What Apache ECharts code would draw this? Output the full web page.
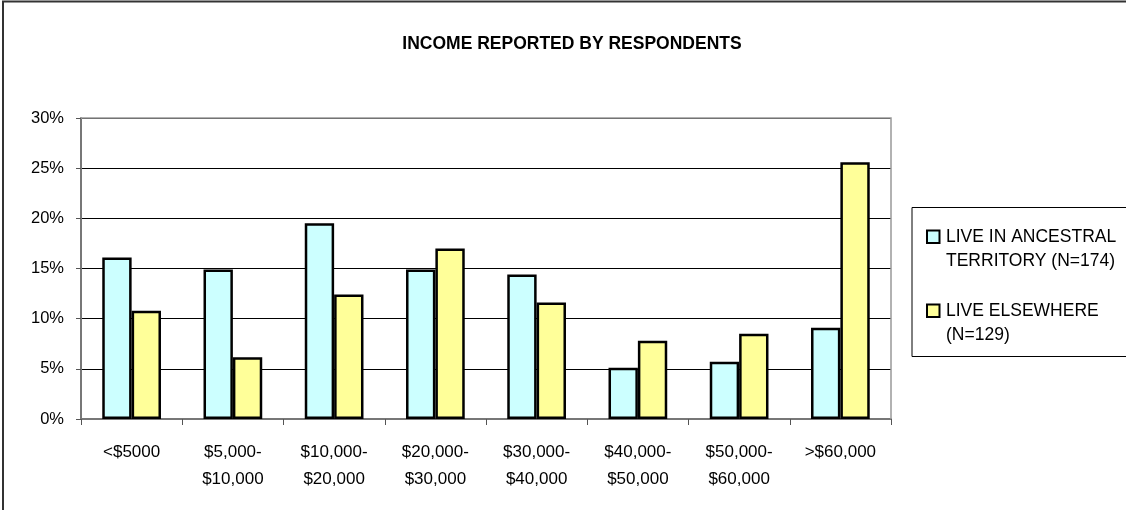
<!DOCTYPE html>
<html>
<head>
<meta charset="utf-8">
<script src="https://cdn.jsdelivr.net/npm/echarts@6/dist/echarts.min.js"></script>
<style>
  html, body { margin: 0; padding: 0; background: #fff; }
  #chart { width: 1126px; height: 510px; }
</style>
</head>
<body>
<div id="chart"></div>
<script>
// Income brackets on the category axis
const categories = ['<$5000', '$5,000-\n$10,000', '$10,000-\n$20,000', '$20,000-\n$30,000',
  '$30,000-\n$40,000', '$40,000-\n$50,000', '$50,000-\n$60,000', '>$60,000'];

// Share of respondents (%) in each bracket
const ancestral = [16.1, 14.9, 19.5, 14.9, 14.4, 5.1, 5.7, 9.1];
const elsewhere = [10.8, 6.15, 12.4, 17.0, 11.6, 7.8, 8.5, 25.6];

const seriesNames = ['LIVE IN ANCESTRAL\nTERRITORY (N=174)', 'LIVE ELSEWHERE\n(N=129)'];
const seriesColors = ['#ccffff', '#ffff99'];
const yTicks = [0, 5, 10, 15, 20, 25, 30];

const FONT = '"Liberation Sans", Arial, sans-serif';

const chart = echarts.init(document.getElementById('chart'), null, { renderer: 'canvas' });

// Legend box: a square swatch beside the first line of each two-line name
function legendGraphic() {
  const items = [];
  const x0 = 926, y0 = 229.5, step = 74;
  seriesNames.forEach((name, i) => {
    const y = y0 + i * step;
    items.push({
      type: 'rect', shape: { x: x0 + 1, y: y + 1, width: 12.5, height: 12.5 },
      style: { fill: seriesColors[i], stroke: '#000', lineWidth: 2 }, silent: true, z: 10
    });
    items.push({
      type: 'text', x: x0 + 20, y: y - 4.5,
      style: { text: name, fontFamily: FONT, fontSize: 17.5, lineHeight: 24, fill: '#000',
               textVerticalAlign: 'top' },
      silent: true, z: 10
    });
  });
  return items;
}

chart.setOption({
  animation: false,
  backgroundColor: '#fff',
  textStyle: { fontFamily: FONT, color: '#000' },
  title: {
    text: 'INCOME REPORTED BY RESPONDENTS',
    left: 567, top: 30, textAlign: 'center',
    textStyle: { fontFamily: FONT, fontSize: 17.5, fontWeight: 'bold', color: '#000' }
  },
  graphic: [
    // outer chart frame
    { type: 'rect', shape: { x: 3, y: 1.5, width: 1140, height: 520 },
      style: { fill: null, stroke: '#333', lineWidth: 2 }, silent: true },
    // plot area frame (top and right edges)
    { type: 'polyline', shape: { points: [[81, 118], [891, 118], [891, 419]] },
      style: { fill: null, stroke: '#999', lineWidth: 1.5 }, silent: true, z: 1 },
    // legend box
    { type: 'rect', shape: { x: 912, y: 207.5, width: 230, height: 149 },
      style: { fill: '#fff', stroke: '#000', lineWidth: 1 }, silent: true, z: 0 },
    ...legendGraphic()
  ],
  grid: { left: 81, right: 235, top: 118, bottom: 91, containLabel: false },
  xAxis: {
    type: 'category',
    data: categories,
    axisLine: { lineStyle: { color: '#777', width: 2 } },
    axisTick: { show: true, length: 6, lineStyle: { color: '#555', width: 1 } },
    axisLabel: { fontFamily: FONT, fontSize: 17, color: '#000', margin: 20, lineHeight: 27, interval: 0 },
    splitLine: { show: false }
  },
  yAxis: {
    type: 'value',
    min: 0, max: 30, interval: 5,
    axisLine: { show: true, lineStyle: { color: '#777', width: 2 } },
    axisTick: { show: true, length: 5, lineStyle: { color: '#555' } },
    axisLabel: {
      fontFamily: FONT, fontSize: 16.5, color: '#000', margin: 17,
      formatter: v => yTicks.includes(v) ? v + '%' : ''
    },
    splitLine: { show: true, lineStyle: { color: '#000', width: 1 } }
  },
  series: [
    {
      name: seriesNames[0], type: 'bar', data: ancestral,
      barGap: '0%', barCategoryGap: '42%',
      itemStyle: { color: seriesColors[0], borderColor: '#000', borderWidth: 2.5 }
    },
    {
      name: seriesNames[1], type: 'bar', data: elsewhere,
      barGap: '0%', barCategoryGap: '42%',
      itemStyle: { color: seriesColors[1], borderColor: '#000', borderWidth: 2.5 }
    }
  ]
});
</script>
</body>
</html>
